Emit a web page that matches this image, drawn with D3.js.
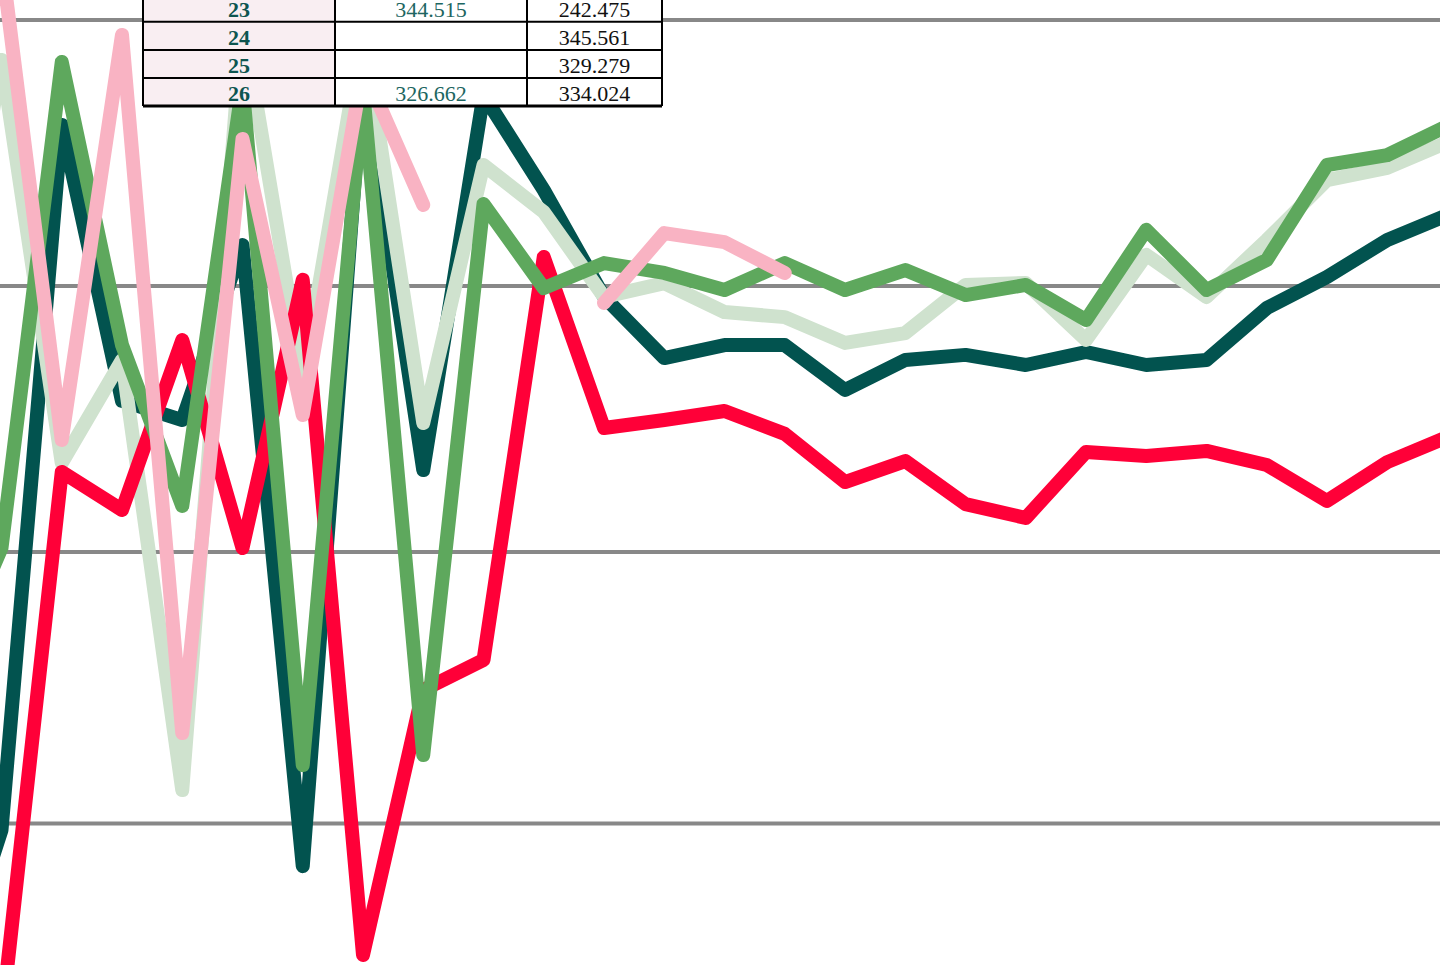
<!DOCTYPE html>
<html>
<head>
<meta charset="utf-8">
<script src="https://cdn.jsdelivr.net/npm/d3@7"></script>
<style>
  html, body { margin: 0; padding: 0; background: #fff; overflow: hidden; }
  svg { display: block; }
</style>
</head>
<body>
<div id="chart"></div>
<script>
// categories (x positions, not labelled in this view; the first one sits just left of the frame)
const categories = ["0","1","2","3","4","5","6","7","8","9","10","11","12","13",
  "14","15","16","17","18","19","20","21","22","23","24","25"];

// series values
const tealValues = [28.7, 97.6, 360.5, 256.8, 249.6, 315.4, 84.3, 381.2, 230.8, 371.8, 336.1,
  295.9, 272.9, 277.8, 277.8, 260.9, 272.2, 274.1, 270.3, 275.2, 270.3, 272.2, 291.7,
  303.4, 317.3, 326.7];
const lightGreenValues = [250.0, 385.0, 233.5, 272.2, 112.3, 400.0, 264.7, 396.2, 248.5, 345.5,
  327.8, 295.9, 301.1, 290.2, 288.3, 278.6, 282.3, 300.4, 301.1, 279.7, 311.7, 295.9,
  317.3, 339.8, 344.4, 354.1];
const redValues = [150.0, 27.6, 230.1, 215.8, 279.7, 201.5, 302.3, 51.6, 149.2, 160.2, 310.9,
  246.6, 249.6, 253.0, 244.4, 226.3, 234.2, 218.0, 212.8, 237.6, 236.1, 238.0, 232.7,
  219.2, 233.8, 243.2];
const greenValues = [150.0, 201.5, 384.2, 277.8, 217.3, 375.6, 121.5, 373.7, 125.2, 330.8, 299.2,
  308.6, 304.9, 298.5, 308.6, 298.5, 306.0, 296.6, 300.4, 287.2, 321.1, 298.5, 309.8,
  345.5, 349.2, 360.2];
const pinkValues = [300.0, 422.6, 242.1, 394.4, 133.3, 355.3, 251.5, 382.0, 330.5, null, null,
  293.6, 319.9, 316.5, 304.9, null, null, null, null, null, null, null, null,
  null, null, null];

// gridline values
const gridValues = [100, 200, 300, 400];

// table contents
const tableRows = ["23", "24", "25", "26"];
const tableColA = ["344.515", "", "", "326.662"];
const tableColB = ["242.475", "345.561", "329.279", "334.024"];

const width = 1440;
const height = 965;

const svg = d3.select("#chart")
  .append("svg")
  .attr("width", width)
  .attr("height", height);

const x = d3.scalePoint()
  .domain(categories)
  .range([-58.75, 1447.5])
  .padding(0);

const y = d3.scaleLinear()
  .domain(gridValues)
  .range([823.5, 552, 286, 20]);

// gridlines
svg.append("g")
  .selectAll("line")
  .data(gridValues)
  .join("line")
  .attr("x1", 0)
  .attr("x2", width)
  .attr("y1", d => y(d))
  .attr("y2", d => y(d))
  .attr("stroke", "#888888")
  .attr("stroke-width", 4);

const series = [
  { name: "teal", values: tealValues, color: "#02534f" },
  { name: "lightgreen", values: lightGreenValues, color: "#cfe2ce" },
  { name: "red", values: redValues, color: "#ff0038" },
  { name: "green", values: greenValues, color: "#5ea85d" },
  { name: "pink", values: pinkValues, color: "#f9b3c3" }
];

const line = d3.line()
  .defined(d => d.v != null)
  .x(d => x(d.c))
  .y(d => y(d.v));

svg.append("g")
  .selectAll("path")
  .data(series)
  .join("path")
  .attr("fill", "none")
  .attr("stroke", d => d.color)
  .attr("stroke-width", 14)
  .attr("stroke-linejoin", "round")
  .attr("stroke-linecap", "round")
  .attr("d", d => line(d.values.map((v, i) => ({ c: categories[i], v: v }))));

// data table overlay
const colEdges = [143, 335, 527, 662];
const rowTop = -6.3;
const rowH = 28.1;

const table = svg.append("g").attr("class", "table");

const rows = table.selectAll("g.row")
  .data(tableRows.map((r, i) => ({ label: r, a: tableColA[i], b: tableColB[i], i: i })))
  .join("g")
  .attr("class", "row")
  .attr("transform", d => `translate(0,${rowTop + d.i * rowH})`);

rows.append("rect")
  .attr("x", colEdges[0])
  .attr("width", colEdges[1] - colEdges[0])
  .attr("height", rowH)
  .attr("fill", "#f9eef2");

rows.append("rect")
  .attr("x", colEdges[1])
  .attr("width", colEdges[3] - colEdges[1])
  .attr("height", rowH)
  .attr("fill", "#ffffff");

rows.append("text")
  .attr("x", (colEdges[0] + colEdges[1]) / 2)
  .attr("y", rowH - 5)
  .attr("text-anchor", "middle")
  .attr("font-family", "'Liberation Serif', serif")
  .attr("font-weight", "bold")
  .attr("font-size", 22)
  .attr("fill", "#0d5550")
  .text(d => d.label);

rows.append("text")
  .attr("x", (colEdges[1] + colEdges[2]) / 2)
  .attr("y", rowH - 5)
  .attr("text-anchor", "middle")
  .attr("font-family", "'Liberation Serif', serif")
  .attr("font-size", 22)
  .attr("fill", "#1d6661")
  .text(d => d.a);

rows.append("text")
  .attr("x", (colEdges[2] + colEdges[3]) / 2)
  .attr("y", rowH - 5)
  .attr("text-anchor", "middle")
  .attr("font-family", "'Liberation Serif', serif")
  .attr("font-size", 22)
  .attr("fill", "#111111")
  .text(d => d.b);

// cell borders
const rowLines = d3.range(tableRows.length + 1).map(i => rowTop + i * rowH);
table.selectAll("line.h")
  .data(rowLines)
  .join("line")
  .attr("class", "h")
  .attr("x1", colEdges[0])
  .attr("x2", colEdges[3])
  .attr("y1", d => d)
  .attr("y2", d => d)
  .attr("stroke", "#000")
  .attr("stroke-width", (d, i) => i === tableRows.length ? 3 : 2);

table.selectAll("line.v")
  .data(colEdges)
  .join("line")
  .attr("class", "v")
  .attr("x1", d => d)
  .attr("x2", d => d)
  .attr("y1", rowTop)
  .attr("y2", rowTop + tableRows.length * rowH)
  .attr("stroke", "#000")
  .attr("stroke-width", 2);
</script>
</body>
</html>
